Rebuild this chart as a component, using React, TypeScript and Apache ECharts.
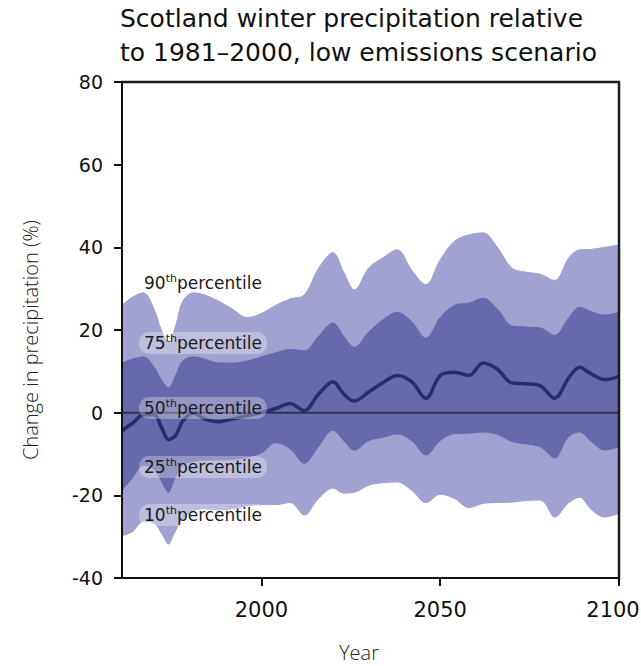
import React, { useEffect, useRef } from 'react';
import * as echarts from 'echarts';

const years = [1961, 1964, 1967, 1970, 1972, 1974, 1976, 1978, 1981, 1984, 1988, 1992, 1996, 2000, 2004, 2008, 2012, 2016, 2020, 2023, 2026, 2030, 2034, 2038, 2042, 2046, 2050, 2054, 2058, 2062, 2066, 2070, 2074, 2078, 2082, 2086, 2089, 2092, 2096, 2100];
const p90 = [26, 28, 29, 25, 20, 17, 21, 27, 29, 28.5, 27, 25, 23, 24, 26, 27.5, 28.5, 35, 38.7, 34, 29.7, 35, 37.5, 39.4, 34.5, 31, 37, 41.5, 43, 43.5, 40, 35, 34, 33.5, 32, 37.5, 39.4, 39.5, 40, 40.6];
const p75 = [12, 13, 13.5, 11, 8, 6, 9, 12.5, 13.5, 13, 12, 12, 12.5, 13.5, 14.5, 15.3, 15, 18.5, 21.7, 18.5, 15.8, 19.5, 22.5, 24.3, 22, 18, 23, 26, 26.5, 27.7, 25, 21, 20.7, 20.5, 18.7, 23, 25.5, 24.5, 23.6, 24.3];
const p50 = [-4.4, -2.5, -0.5, -0.5, -3.5, -6.5, -5.5, -2, 0, -1.5, -2.2, -1.5, -0.7, 0, 1, 2.2, 0.5, 4.5, 7.5, 4.5, 2.8, 5, 7.3, 9, 7.5, 3.5, 9, 9.8, 9, 12, 10.5, 7.2, 7, 6.5, 3.5, 8.5, 11, 9.5, 8, 8.8];
const p25 = [-19, -16, -13, -14, -17, -19.5, -16, -13, -12, -11.7, -11.7, -11.5, -11, -10, -7.5, -9, -12.5, -8.5, -4.5, -7, -9.3, -7, -6.2, -5.4, -7, -10.5, -7, -5.3, -5.2, -4.9, -5.5, -7.2, -7.8, -8.5, -11.2, -6, -4.9, -7, -9.3, -8.5];
const p10 = [-30, -29, -26.5, -27, -29.5, -32, -29, -26, -24, -23.5, -23.8, -23.5, -22.8, -22.5, -22.5, -22, -25, -21, -18.5, -19.7, -19.5, -17.8, -17.2, -17, -19, -22, -20, -21, -23.2, -22.2, -22, -21.9, -21.5, -21.4, -25.5, -22, -20.7, -23.5, -25.5, -24.6];

const X_MIN = 1961;
const X_MAX = 2100;
const Y_MIN = -40;
const Y_MAX = 80;
const xTicks = [2000, 2050, 2100];
const xLabelsOnAxis = [2000, 2050];
const xLastLabel = '2100';
const pctNames = ['90', '75', '50', '25', '10'];
const pctLabelY = [283, 343, 408, 467, 515];

const LIGHT = '#a2a2d2';
const DARK = '#6868ac';
const MEDIAN = '#262d6c';
const TICKFONT = '"DejaVu Sans", sans-serif';

export default function App() {
  const ref = useRef<HTMLDivElement>(null);
  useEffect(() => {
    document.body.style.margin = '0';
    const chart = echarts.init(ref.current!, null, { renderer: 'svg' });
    const pts = (arr: number[]) => years.map((y, i) => [y, arr[i]]);
    const bandSeries = (name: string, arr: number[], color: string, z: number) => ({
      name,
      type: 'line',
      data: pts(arr),
      smooth: 0.35,
      symbol: 'none',
      z,
      lineStyle: { width: 1, color },
      areaStyle: { color, opacity: 1, origin: 'start' },
      silent: true,
    });
    chart.setOption({
      animation: false,
      title: {
        text: 'Scotland winter precipitation relative\nto 1981\u20132000, low emissions scenario',
        left: 120,
        top: 1,
        padding: 0,
        textStyle: { fontFamily: TICKFONT, fontSize: 25, fontWeight: 'normal', color: '#111', lineHeight: 34 },
      },
      grid: { left: 122, right: 22, top: 82, bottom: 88, show: false, containLabel: false },
      xAxis: {
        type: 'value',
        min: X_MIN,
        max: X_MAX,
        z: 10,
        splitLine: { show: false },
        axisLine: { show: true, onZero: false, lineStyle: { color: '#111', width: 2 } },
        axisTick: { show: true, customValues: xTicks, length: 8, lineStyle: { color: '#111', width: 2 } },
        axisLabel: {
          customValues: xLabelsOnAxis,
          formatter: (v: number) => String(v),
          fontFamily: TICKFONT,
          fontSize: 21,
          color: '#111',
          margin: 21,
        },
      },
      yAxis: {
        type: 'value',
        min: Y_MIN,
        max: Y_MAX,
        interval: 20,
        z: 10,
        splitLine: { show: false },
        axisLine: { show: true, onZero: false, lineStyle: { color: '#111', width: 2 } },
        axisTick: { show: true, length: 8, lineStyle: { color: '#111', width: 2 } },
        axisLabel: { fontFamily: TICKFONT, fontSize: 19, color: '#111', margin: 19 },
      },
      graphic: [
        {
          type: 'text',
          x: 30,
          y: 340,
          rotation: Math.PI / 2,
          style: { text: 'Change in precipitation (%)', fontFamily: '"Open Sans", sans-serif', fontSize: 20, fontWeight: 300, fill: '#222', align: 'center', verticalAlign: 'middle' },
        },
        {
          type: 'text',
          x: 359,
          y: 652,
          style: { text: 'Year', fontFamily: '"Open Sans", sans-serif', fontSize: 20, lineHeight: 22, fontWeight: 300, fill: '#222', align: 'center', verticalAlign: 'middle' },
        },
        {
          type: 'text',
          x: 613,
          y: 599,
          style: { text: xLastLabel, fontFamily: TICKFONT, fontSize: 21, fill: '#111', align: 'center', verticalAlign: 'top' },
        },
        ...pctNames.map((n, i) => ({
          type: 'text',
          x: 139,
          y: pctLabelY[i],
          z: 100,
          style: {
            text: `{a|${n}}{b|th}{c|percentile}`,
            verticalAlign: 'middle',
            align: 'left',
            backgroundColor: i === 0 ? 'transparent' : 'rgba(255,255,255,0.3)',
            borderRadius: 10,
            padding: [1, 5, 1, 5],
            rich: {
              a: { fontFamily: '"DejaVu Sans"', fontSize: 17, fill: '#1a1a1a', lineHeight: 20 },
              b: { fontFamily: '"DejaVu Sans"', fontSize: 11, fill: '#1a1a1a', lineHeight: 11, verticalAlign: 'top' },
              c: { fontFamily: '"DejaVu Sans"', fontSize: 17, fill: '#1a1a1a', lineHeight: 20 },
            },
          },
        })),
      ],
      series: [
        bandSeries('p90', p90, LIGHT, 2),
        bandSeries('p75', p75, DARK, 2),
        bandSeries('p25', p25, LIGHT, 2),
        bandSeries('p10', p10, '#ffffff', 2),
        {
          name: 'zero',
          type: 'line',
          data: [[X_MIN, 0], [X_MAX, 0]],
          symbol: 'none',
          z: 3,
          lineStyle: { color: '#30344a', width: 2 },
          silent: true,
        },
        {
          name: 'median',
          type: 'line',
          data: pts(p50),
          smooth: 0.35,
          symbol: 'none',
          z: 4,
          lineStyle: { color: MEDIAN, width: 3.5 },
          silent: true,
        },
        {
          name: 'frame',
          type: 'line',
          data: [[X_MIN, Y_MAX], [X_MAX, Y_MAX], [X_MAX, Y_MIN]],
          symbol: 'none',
          clip: false,
          z: 12,
          lineStyle: { color: '#1a1a1a', width: 2.5, cap: 'square', join: 'miter' },
          silent: true,
        },
      ],
    });
    return () => chart.dispose();
  }, []);
  return <div ref={ref} style={{ width: 641, height: 666 }} />;
}
